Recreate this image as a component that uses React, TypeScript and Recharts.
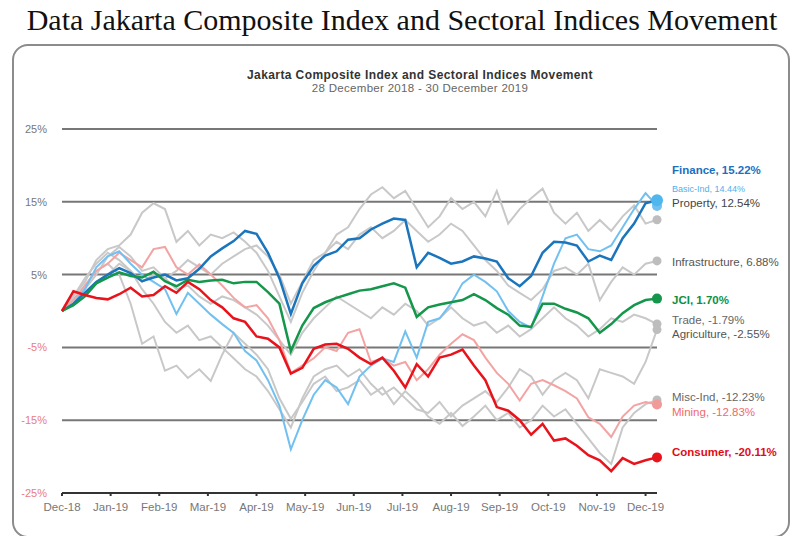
import { CartesianGrid, Line, LineChart, XAxis, YAxis } from "recharts";

// week index from 28 Dec 2018 (0) to 30 Dec 2019 (52)
const weeks = Array.from({ length: 53 }, (_, i) => i);

const monthLabels = [
  "Dec-18", "Jan-19", "Feb-19", "Mar-19", "Apr-19", "May-19", "Jun-19",
  "Jul-19", "Aug-19", "Sep-19", "Oct-19", "Nov-19", "Dec-19",
];
const monthTicks = monthLabels.map((_, k) => k * 4.25);
const yTicks = [25, 15, 5, -5, -15, -25];

// % change vs 28 Dec 2018 (weekly)
const jci = [0, 0.8, 2.0, 3.8, 4.6, 5.3, 4.8, 4.6, 5.4, 4.1, 3.4, 4.3, 4.0, 4.2, 4.3, 3.8, 4.0, 4.0, 2.6, 1.0, -5.5, -2.0, 0.4, 1.2, 1.8, 2.3, 2.8, 3.0, 3.4, 3.8, 3.2, -0.8, 0.5, 0.9, 1.2, 1.5, 2.3, 1.5, 0.4, -0.5, -2.0, -2.2, 1.0, 1.0, 0.3, -0.2, -1.0, -3.0, -1.8, -0.3, 0.8, 1.5, 1.7];
const finance = [0, 1.0, 2.5, 4.0, 5.0, 5.9, 5.2, 4.1, 4.6, 5.0, 4.2, 4.5, 5.8, 7.5, 8.6, 9.6, 11.0, 10.6, 8.0, 4.5, -0.4, 3.8, 6.2, 7.6, 8.2, 9.8, 10.0, 11.2, 12.0, 12.7, 12.5, 6.0, 8.0, 7.3, 6.5, 6.8, 7.5, 7.2, 6.8, 4.5, 3.4, 4.8, 8.0, 9.5, 9.4, 9.0, 6.8, 7.6, 7.0, 10.0, 12.0, 14.8, 15.22];
const basicInd = [0, 1.0, 3.0, 6.0, 7.5, 8.2, 6.5, 5.0, 4.0, 3.0, -0.4, 2.5, 1.0, -0.5, -1.8, -3.0, -5.5, -6.8, -9.5, -13.0, -19.0, -15.0, -11.5, -9.5, -10.5, -12.8, -9.0, -7.5, -6.5, -7.0, -2.8, -6.4, -1.5, -1.0, 1.0, 3.8, 5.0, 4.0, 2.7, 0.0, -1.5, -2.3, 2.0, 6.5, 10.0, 10.5, 8.5, 8.2, 9.0, 11.5, 14.0, 16.2, 14.44];
const property = [0, 2, 4, 7, 8.5, 9, 10.5, 13.5, 14.8, 14.0, 9.5, 11.0, 9.0, 10.5, 10.0, 10.8, 9.5, 8.0, 5.5, 2.0, -1.5, 2.5, 5.5, 8.0, 10.5, 11.5, 14.0, 16.0, 17.0, 15.5, 16.5, 14.0, 11.5, 13.0, 15.5, 14.0, 15.0, 13.0, 16.5, 12.0, 14.0, 15.5, 16.8, 13.5, 12.0, 13.5, 11.0, 12.5, 11.0, 13.0, 14.5, 12.0, 12.54];
const infrastructure = [0, 1.5, 3.0, 5.0, 7.5, 8.8, 7.5, 5.5, 6.0, 4.5, 5.5, 7.0, 6.0, 5.0, 6.5, 7.5, 8.5, 9.0, 7.5, 5.0, 1.0, 4.0, 7.0, 8.0, 9.5, 8.5, 10.5, 11.5, 10.0, 11.0, 12.5, 11.0, 9.5, 10.5, 12.0, 11.0, 9.0, 7.0, 5.5, 3.5, 2.5, 1.5, 3.0, 5.5, 6.0, 5.0, 6.5, 1.5, 4.0, 6.0, 5.0, 6.5, 6.88];
const trade = [0, 1, 2.5, 4, 5, 6.5, 5.5, 4.0, 5.0, 4.5, 3.0, 3.5, 2.0, 1.0, 2.0, 1.5, 0.5, -0.5, -2.0, -4.0, -6.0, -3.0, -1.0, 0.5, 2.0, 1.0, 0.0, -1.0, 0.5, -0.5, 1.0, 0.0, -2.0, -1.0, 0.5, -1.0, -2.0, -1.5, -3.0, -2.0, -3.5, -2.5, -1.0, 0.5, -1.0, -2.0, -3.5, -2.5, -1.0, -1.5, -0.5, -1.0, -1.79];
const agriculture = [0, 2.0, 4.5, 6.5, 8.0, 7.0, 5.5, 3.0, 1.0, -1.5, -3.0, -2.0, -4.0, -3.5, -5.0, -6.5, -8.0, -9.0, -11.0, -13.5, -16.0, -12.0, -9.0, -8.0, -7.5, -9.0, -8.0, -10.0, -11.5, -10.5, -12.0, -13.5, -14.0, -12.5, -14.5, -13.0, -12.0, -11.0, -12.5, -10.5, -8.0, -9.0, -11.5, -9.5, -8.5, -9.5, -12.0, -8.0, -8.5, -9.0, -10.0, -7.0, -2.55];
const miscInd = [0, 1.5, 3.5, 5.5, 6.5, 5.0, 1.0, -4.5, -3.5, -8.2, -7.5, -9.2, -8.0, -9.6, -6.0, -3.0, -4.5, -6.0, -8.0, -12.0, -14.8, -12.5, -10.0, -9.0, -11.0, -10.5, -9.5, -11.5, -10.5, -12.8, -11.0, -12.5, -14.5, -15.5, -14.0, -15.8, -14.5, -13.0, -15.0, -14.0, -16.0, -15.0, -13.0, -14.5, -13.5, -15.5, -17.5, -19.5, -21.0, -16.0, -14.0, -12.8, -12.23];
const mining = [0, 1.5, 3.5, 5.5, 6.5, 8.0, 7.0, 6.0, 8.5, 8.8, 6.0, 5.0, 6.4, 5.0, 3.5, 1.8, 0.5, 0.8, -1.0, -4.0, -8.5, -7.5, -6.5, -5.0, -5.5, -3.0, -2.5, -7.0, -6.5, -7.5, -7.0, -9.5, -8.0, -6.0, -4.5, -3.2, -4.0, -6.4, -8.5, -10.0, -12.3, -10.0, -9.5, -10.2, -11.0, -12.0, -14.6, -15.5, -17.3, -14.5, -13.0, -12.5, -12.83];
const consumer = [0, 2.7, 2.2, 1.8, 1.6, 2.3, 3.2, 2.0, 2.2, 3.4, 2.5, 4.0, 3.0, 1.5, 0.5, -1.0, -1.5, -3.5, -3.8, -5.0, -8.6, -7.8, -5.2, -4.6, -4.5, -5.2, -6.4, -7.3, -6.4, -8.2, -10.5, -7.3, -9.0, -6.4, -6.0, -5.3, -7.5, -9.5, -13.2, -13.7, -15.0, -17.0, -15.5, -17.8, -17.5, -18.5, -19.8, -20.5, -22.0, -20.2, -21.0, -20.5, -20.11];

const data = weeks.map((w, i) => ({
  w,
  jci: jci[i],
  finance: finance[i],
  basicInd: basicInd[i],
  property: property[i],
  infrastructure: infrastructure[i],
  trade: trade[i],
  agriculture: agriculture[i],
  miscInd: miscInd[i],
  mining: mining[i],
  consumer: consumer[i],
}));

const LAST = weeks.length - 1;

// drawing order: greys first, highlighted series on top
const series = [
  { key: "property", color: "#c8c8c8", width: 2, dot: "#bdbdbd", r: 4.5 },
  { key: "infrastructure", color: "#c8c8c8", width: 2, dot: "#bdbdbd", r: 4.5 },
  { key: "trade", color: "#c8c8c8", width: 2, dot: "#bdbdbd", r: 4.5 },
  { key: "agriculture", color: "#c8c8c8", width: 2, dot: "#bdbdbd", r: 4.5 },
  { key: "miscInd", color: "#c8c8c8", width: 2, dot: "#bdbdbd", r: 4.5 },
  { key: "mining", color: "#f4a3a3", width: 2, dot: "#f19a9a", r: 5 },
  { key: "basicInd", color: "#72c0f0", width: 2, dot: "#72c0f0", r: 5 },
  { key: "finance", color: "#1b75bc", width: 2.5, dot: "#4fb6ee", r: 6 },
  { key: "jci", color: "#14964b", width: 2.5, dot: "#14964b", r: 5 },
  { key: "consumer", color: "#e8131b", width: 2.5, dot: "#e8131b", r: 5 },
];

const endLabels = [
  { text: "Finance, 15.22%", color: "#1b6fc0", bold: true, y: 171, size: 11.5 },
  { text: "Basic-Ind, 14.44%", color: "#4fb0ee", bold: false, y: 189, size: 9 },
  { text: "Property, 12.54%", color: "#444", bold: false, y: 204, size: 11.5 },
  { text: "Infrastructure, 6.88%", color: "#555", bold: false, y: 263, size: 11.5 },
  { text: "JCI, 1.70%", color: "#0e8f43", bold: true, y: 301, size: 11.5 },
  { text: "Trade, -1.79%", color: "#666", bold: false, y: 321, size: 11.5 },
  { text: "Agriculture, -2.55%", color: "#555", bold: false, y: 335, size: 11.5 },
  { text: "Misc-Ind, -12.23%", color: "#666", bold: false, y: 398, size: 11.5 },
  { text: "Mining, -12.83%", color: "#f06a6a", bold: false, y: 413, size: 11.5 },
  { text: "Consumer, -20.11%", color: "#e00d16", bold: true, y: 453, size: 11.5 },
];

const endDot = (color: string, r: number) => (props: any) => {
  const { cx, cy, index } = props;
  if (index !== LAST) return <g key={`n-${index}`} />;
  return <circle key={`d-${index}`} cx={cx} cy={cy} r={r} fill={color} />;
};

const YTick = (props: any) => {
  const { x, y, payload } = props;
  return (
    <text x={x - 7} y={y} dy={4} textAnchor="end" fontSize={11} fill={payload.value < 0 ? "#ea7d7d" : "#777"}>
      {payload.value}%
    </text>
  );
};

const font = "'Liberation Sans', Arial, sans-serif";

export default function App() {
  return (
    <div style={{ position: "absolute", left: 0, top: 0, width: 796, height: 536, background: "#fff", overflow: "hidden", fontFamily: font }}>
      <div style={{ position: "absolute", left: 0, top: 5, width: 804, textAlign: "center", fontFamily: "'Liberation Serif', serif", fontSize: 30, lineHeight: 1, color: "#111" }}>
        Data Jakarta Composite Index and Sectoral Indices Movement
      </div>
      <div style={{ position: "absolute", left: 12, top: 44, width: 774, height: 490, border: "2px solid #8c8c8c", borderRadius: 16 }} />
      <div style={{ position: "absolute", left: 0, top: 69, width: 840, textAlign: "center", fontSize: 12, fontWeight: 700, lineHeight: 1, letterSpacing: 0.4, color: "#333" }}>
        Jakarta Composite Index and Sectoral Indices Movement
      </div>
      <div style={{ position: "absolute", left: 0, top: 83, width: 840, textAlign: "center", fontSize: 11.5, lineHeight: 1, letterSpacing: 0.3, color: "#666" }}>
        28 December 2018 - 30 December 2019
      </div>

      <div style={{ position: "absolute", left: 0, top: 0 }}>
        <LineChart width={796} height={536} data={data} margin={{ top: 129, right: 139, bottom: 13, left: 12 }}>
          <CartesianGrid horizontal vertical={false} stroke="#777" strokeWidth={2} />
          <XAxis
            dataKey="w"
            type="number"
            domain={[0, 52]}
            ticks={monthTicks}
            tickFormatter={(v: number) => monthLabels[Math.round(v / 4.25)]}
            tick={{ fontSize: 11.5, fill: "#777" }}
            tickSize={3}
            tickMargin={7}
            stroke="#333"
            strokeWidth={2}
            height={30}
            interval={0}
          />
          <YAxis
            domain={[-25, 25]}
            ticks={yTicks}
            width={50}
            axisLine={false}
            tickLine={false}
            tick={<YTick />}
            allowDataOverflow
          />
          {series.map((s) => (
            <Line
              key={s.key}
              type="linear"
              dataKey={s.key}
              stroke={s.color}
              strokeWidth={s.width}
              dot={endDot(s.dot, s.r)}
              activeDot={false}
              isAnimationActive={false}
            />
          ))}
        </LineChart>
      </div>

      {endLabels.map((l) => (
        <div
          key={l.text}
          style={{
            position: "absolute",
            left: 672,
            top: l.y - l.size * 0.49,
            fontSize: l.size,
            lineHeight: 1,
            fontWeight: l.bold ? 700 : 400,
            color: l.color,
            whiteSpace: "nowrap",
          }}
        >
          {l.text}
        </div>
      ))}
    </div>
  );
}
